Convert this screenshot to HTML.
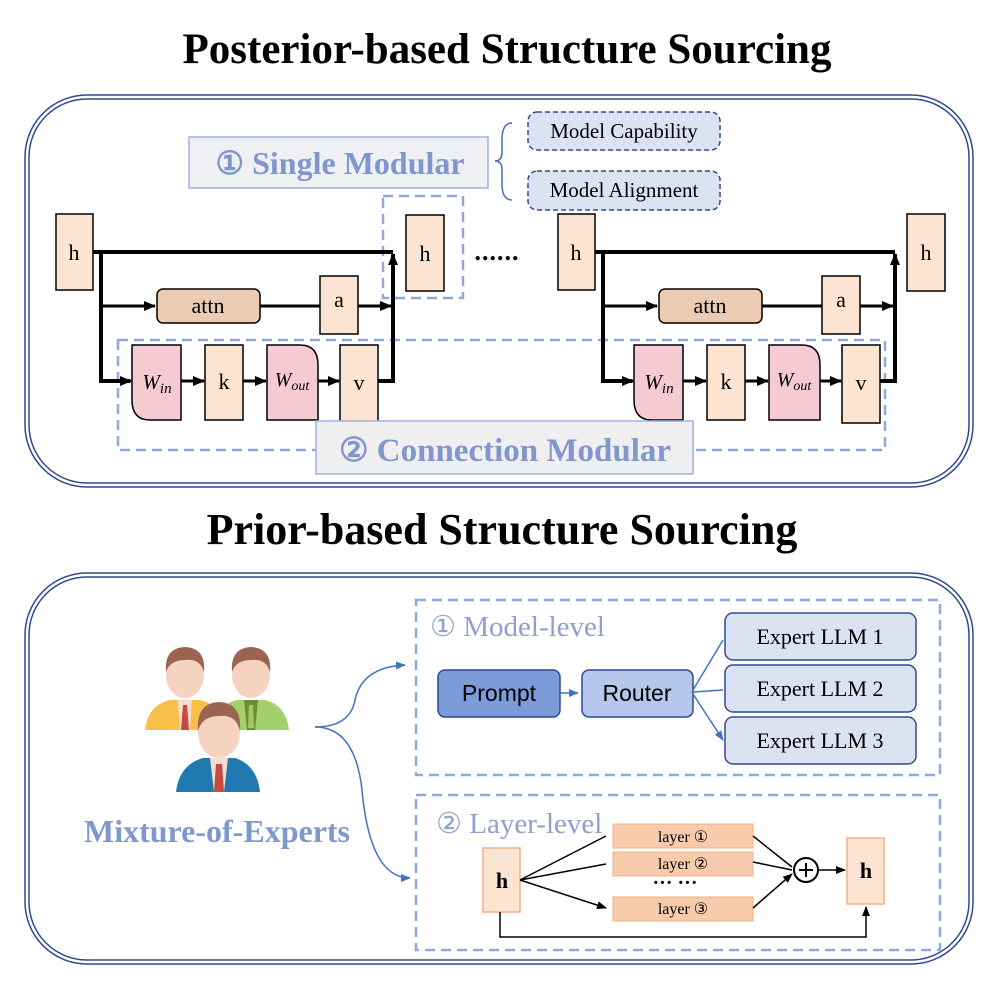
<!DOCTYPE html>
<html><head><meta charset="utf-8"><style>
body{margin:0;background:#fff}
svg{display:block}
text{font-family:"Liberation Serif",serif}
</style></head><body>
<svg width="996" height="996" viewBox="0 0 996 996" xmlns="http://www.w3.org/2000/svg">
<defs>
<marker id="ab" markerWidth="12" markerHeight="10" refX="11" refY="5" orient="auto" markerUnits="userSpaceOnUse"><path d="M0,0 L12,5 L0,10 z" fill="#000"/></marker>
<marker id="as" markerWidth="10" markerHeight="8" refX="9" refY="4" orient="auto" markerUnits="userSpaceOnUse"><path d="M0,0 L10,4 L0,8 z" fill="#000"/></marker>
<marker id="abl" markerWidth="10" markerHeight="8" refX="9" refY="4" orient="auto" markerUnits="userSpaceOnUse"><path d="M0,0 L10,4 L0,8 z" fill="#4472c4"/></marker>
</defs>

<text x="507" y="63" text-anchor="middle" font-size="43" font-weight="bold">Posterior-based Structure Sourcing</text>
<text x="502" y="544" text-anchor="middle" font-size="44" font-weight="bold">Prior-based Structure Sourcing</text>

<rect x="25" y="95" width="948" height="392" rx="62" fill="none" stroke="#2f4b8f" stroke-width="1.5"/>
<rect x="29" y="99" width="940" height="384" rx="58" fill="none" stroke="#2f4b8f" stroke-width="1.5"/>
<rect x="25" y="573" width="948" height="391" rx="62" fill="none" stroke="#2f4b8f" stroke-width="1.5"/>
<rect x="29" y="577" width="940" height="383" rx="58" fill="none" stroke="#2f4b8f" stroke-width="1.5"/>

<rect x="189" y="137" width="299" height="51" fill="#eef0f4" stroke="#9db3e0" stroke-width="1.5"/>
<text x="340" y="174" text-anchor="middle" font-size="32" font-weight="bold" fill="#8096cc">① Single Modular</text>
<path d="M512,123 Q502,123 502,140 L502,152 Q502,161 495,161 Q502,161 502,170 L502,184 Q502,200 512,200" fill="none" stroke="#4a6bb5" stroke-width="1.5"/>
<rect x="528" y="112" width="192" height="38" rx="9" fill="#dbe3f3" stroke="#2f4b8f" stroke-width="1.5" stroke-dasharray="5,3"/>
<text x="624" y="138" text-anchor="middle" font-size="21">Model Capability</text>
<rect x="528" y="171" width="192" height="39" rx="9" fill="#dbe3f3" stroke="#2f4b8f" stroke-width="1.5" stroke-dasharray="5,3"/>
<text x="624" y="197" text-anchor="middle" font-size="21">Model Alignment</text>

<rect x="383" y="196" width="80" height="102" fill="none" stroke="#8fa8de" stroke-width="2.5" stroke-dasharray="10,6"/>
<rect x="118" y="340" width="767" height="110" fill="none" stroke="#8fa8de" stroke-width="2.5" stroke-dasharray="10,6"/>

<g id="unit">
<path d="M93,252 L393,252 M101,252 L101,381 L130,381" fill="none" stroke="#000" stroke-width="4"/>
<path d="M101,306 L155,306" stroke="#000" stroke-width="3" marker-end="url(#ab)"/>
<path d="M260,306 L320,306" stroke="#000" stroke-width="3"/>
<path d="M358,306 L391,306" stroke="#000" stroke-width="3" marker-end="url(#ab)"/>
<path d="M120,381 L131,381" stroke="#000" stroke-width="3" marker-end="url(#ab)"/>
<path d="M181,381 L204,381" stroke="#000" stroke-width="3" marker-end="url(#ab)"/>
<path d="M243,381 L266,381" stroke="#000" stroke-width="3" marker-end="url(#ab)"/>
<path d="M318,381 L339,381" stroke="#000" stroke-width="3" marker-end="url(#ab)"/>
<path d="M378,381 L393,381 L393,254" fill="none" stroke="#000" stroke-width="4" marker-end="url(#ab)"/>
<rect x="56" y="214" width="37" height="76" fill="#fce4d3" stroke="#000" stroke-width="1.5"/>
<text x="74" y="260" text-anchor="middle" font-size="22">h</text>
<rect x="157" y="289" width="103" height="34" rx="6" fill="#ebcbb2" stroke="#000" stroke-width="1.5"/>
<text x="208" y="313" text-anchor="middle" font-size="22">attn</text>
<rect x="320" y="276" width="38" height="58" fill="#fce4d3" stroke="#000" stroke-width="1.5"/>
<text x="339" y="307" text-anchor="middle" font-size="22">a</text>
<path d="M132,345 L181,345 L181,420 L150,420 Q132,420 132,400 Z" fill="#f6cad3" stroke="#000" stroke-width="1.5"/>
<text x="157" y="389" text-anchor="middle" font-size="21" font-style="italic">W<tspan font-size="15" dy="4">in</tspan></text>
<rect x="205" y="345" width="38" height="75" fill="#fce4d3" stroke="#000" stroke-width="1.5"/>
<text x="224" y="389" text-anchor="middle" font-size="22">k</text>
<path d="M267,345 L300,345 Q318,345 318,365 L318,420 L267,420 Z" fill="#f6cad3" stroke="#000" stroke-width="1.5"/>
<text x="292" y="386" text-anchor="middle" font-size="20" font-style="italic">W<tspan font-size="14" dy="4">out</tspan></text>
<rect x="340" y="345" width="38" height="78" fill="#fce4d3" stroke="#000" stroke-width="1.5"/>
<text x="359" y="390" text-anchor="middle" font-size="22">v</text>
</g>
<use href="#unit" transform="translate(502,0)"/>
<rect x="406" y="215" width="38" height="76" fill="#fce4d3" stroke="#000" stroke-width="1.5"/>
<text x="425" y="261" text-anchor="middle" font-size="22">h</text>
<rect x="907" y="214" width="38" height="77" fill="#fce4d3" stroke="#000" stroke-width="1.5"/>
<text x="926" y="260" text-anchor="middle" font-size="22">h</text>
<text x="497" y="260" text-anchor="middle" font-size="26" font-weight="bold" letter-spacing="1">......</text>

<rect x="316" y="421" width="377" height="53" fill="#efefef" stroke="#9db3e0" stroke-width="1.5"/>
<text x="505" y="461" text-anchor="middle" font-size="33" font-weight="bold" fill="#8096cc">② Connection Modular</text>

<rect x="416" y="600" width="524" height="175" fill="none" stroke="#8fa8de" stroke-width="2.5" stroke-dasharray="10,6"/>
<rect x="416" y="795" width="524" height="155" fill="none" stroke="#8fa8de" stroke-width="2.5" stroke-dasharray="10,6"/>
<text x="430" y="636" font-size="29" fill="#8fa0cf">① Model-level</text>
<text x="436" y="833" font-size="29" fill="#8fa0cf">② Layer-level</text>

<rect x="438" y="670" width="122" height="47" rx="7" fill="#7b9bd9" stroke="#2f4b8f" stroke-width="1.5"/>
<text x="499" y="701" text-anchor="middle" font-size="23" style="font-family:'Liberation Sans',sans-serif">Prompt</text>
<rect x="582" y="670" width="111" height="47" rx="7" fill="#b5c7ea" stroke="#2f4b8f" stroke-width="1.5"/>
<text x="637" y="701" text-anchor="middle" font-size="23" style="font-family:'Liberation Sans',sans-serif">Router</text>
<path d="M560,693 L578,693" stroke="#4472c4" stroke-width="1.5" marker-end="url(#abl)"/>
<path d="M693,690 L723,640 M693,692 L723,690 M693,694 L723,740" stroke="#4472c4" stroke-width="1.5" fill="none" marker-end="url(#abl)"/>
<rect x="725" y="613" width="191" height="47" rx="8" fill="#dbe3f3" stroke="#2f4b8f" stroke-width="1.5"/>
<text x="820" y="644" text-anchor="middle" font-size="22">Expert LLM 1</text>
<rect x="725" y="665" width="191" height="47" rx="8" fill="#dbe3f3" stroke="#2f4b8f" stroke-width="1.5"/>
<text x="820" y="696" text-anchor="middle" font-size="22">Expert LLM 2</text>
<rect x="725" y="717" width="191" height="47" rx="8" fill="#dbe3f3" stroke="#2f4b8f" stroke-width="1.5"/>
<text x="820" y="748" text-anchor="middle" font-size="22">Expert LLM 3</text>

<path d="M315,727 Q350,727 355,700 Q362,667 405,665" fill="none" stroke="#4472c4" stroke-width="1.5" marker-end="url(#abl)"/>
<path d="M315,727 Q355,727 362,790 Q370,878 410,878" fill="none" stroke="#4472c4" stroke-width="1.5" marker-end="url(#abl)"/>
<text x="217" y="842" text-anchor="middle" font-size="32" font-weight="bold" fill="#8097cf">Mixture-of-Experts</text>

<g>
<path d="M145,730 Q148,705 170,700 L200,700 Q222,705 224,730 Z" fill="#f8c048"/>
<path d="M178,700 L192,700 L190,730 L180,730 Z" fill="#f3ddd0"/><path d="M183,705 L187,705 L189,730 L181,730 Z" fill="#c84a3e"/>
<ellipse cx="185" cy="675" rx="19" ry="23" fill="#f6d3c0"/>
<path d="M166,672 Q164,648 185,647 Q206,648 204,672 Q200,658 185,660 Q170,660 166,672 Z" fill="#9a6450"/>
<path d="M212,730 Q215,705 237,700 L265,700 Q286,705 289,730 Z" fill="#a4d06a"/>
<path d="M244,700 L258,700 L255,730 L247,730 Z" fill="#6a8c3a"/><path d="M249,705 L253,705 L254,728 L248,728 Z" fill="#9fc95a"/>
<ellipse cx="251" cy="675" rx="19" ry="23" fill="#f6d3c0"/>
<path d="M232,672 Q230,648 251,647 Q272,648 270,672 Q266,658 251,660 Q236,660 232,672 Z" fill="#9a6450"/>
<path d="M176,792 Q179,765 203,758 L235,758 Q257,765 260,792 Z" fill="#1f78b0"/>
<path d="M210,758 L228,758 L224,792 L214,792 Z" fill="#f3ddd0"/><path d="M216,764 L222,764 L224,792 L214,792 Z" fill="#c84a3e"/>
<ellipse cx="219" cy="733" rx="21" ry="25" fill="#f6d3c0"/>
<path d="M198,731 Q196,703 219,702 Q242,703 240,731 Q236,714 219,716 Q202,716 198,731 Z" fill="#9a6450"/>
</g>

<rect x="483" y="848" width="37" height="64" fill="#fce4d3" stroke="#f4b183" stroke-width="1.5"/>
<text x="502" y="888" text-anchor="middle" font-size="22" font-weight="bold">h</text>
<rect x="613" y="824" width="140" height="24" fill="#f8cbad" stroke="#f4b183" stroke-width="1"/>
<text x="683" y="842" text-anchor="middle" font-size="16">layer ①</text>
<rect x="613" y="852" width="140" height="24" fill="#f8cbad" stroke="#f4b183" stroke-width="1"/>
<text x="683" y="869" text-anchor="middle" font-size="16">layer ②</text>
<rect x="613" y="897" width="140" height="24" fill="#f8cbad" stroke="#f4b183" stroke-width="1"/>
<text x="683" y="914" text-anchor="middle" font-size="16">layer ③</text>
<text x="675" y="889" text-anchor="middle" font-size="20" font-weight="bold">··· ···</text>
<path d="M520,880 L606,836 M520,880 L606,864 M520,880 L606,908" stroke="#000" stroke-width="1.5" fill="none" marker-end="url(#as)"/>
<path d="M753,836 L792,867 M753,862 L792,870 M753,908 L792,874" stroke="#000" stroke-width="1.5" fill="none" marker-end="url(#as)"/>
<circle cx="806" cy="870" r="12" fill="#fff" stroke="#000" stroke-width="2"/>
<path d="M799,870 L813,870 M806,863 L806,877" stroke="#000" stroke-width="2"/>
<path d="M818,870 L845,870" stroke="#000" stroke-width="1.5" marker-end="url(#as)"/>
<rect x="847" y="838" width="37" height="66" fill="#fce4d3" stroke="#f4b183" stroke-width="1.5"/>
<text x="866" y="878" text-anchor="middle" font-size="22" font-weight="bold">h</text>
<path d="M500,912 L500,937 L866,937 L866,907" stroke="#000" stroke-width="1.5" fill="none" marker-end="url(#as)"/>
</svg>
</body></html>
